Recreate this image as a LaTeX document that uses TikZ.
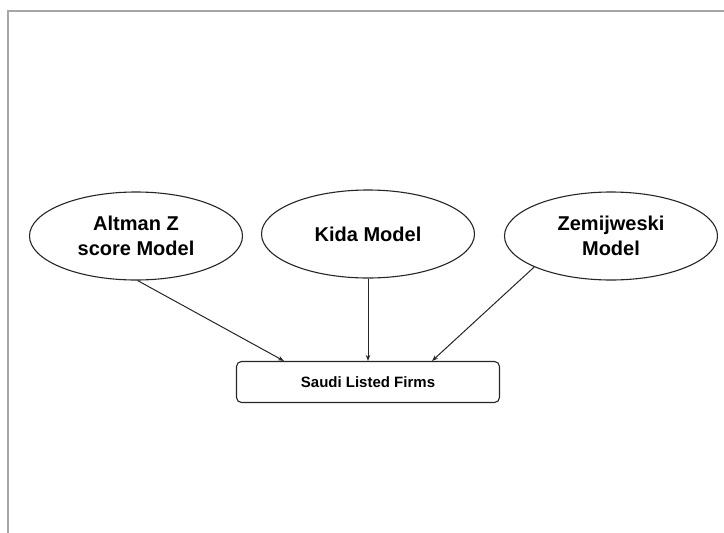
\documentclass[tikz,border=0pt]{standalone}
\usepackage{fontspec}
\setmainfont{Liberation Sans}
\usetikzlibrary{shapes.geometric,arrows.meta,calc}
\begin{document}
\begin{tikzpicture}[x=1pt,y=-1pt,
  model/.style={ellipse,draw=black!85,line width=1.1pt,minimum width=213pt,minimum height=88pt,inner sep=0pt,align=center,font=\bfseries\fontsize{20}{25}\selectfont},
  firmbox/.style={rectangle,rounded corners=5pt,draw=black!85,line width=1.1pt,minimum width=263pt,minimum height=41pt,inner sep=0pt,font=\bfseries\fontsize{15}{18}\selectfont},
  link/.style={draw=black!85,line width=1pt,-{Stealth[length=6pt,width=4.5pt]}},
  frameline/.style={draw=black!35,line width=2pt}]
\useasboundingbox (0,0) rectangle (724,533);
\coordinate (ftop) at (724,11);
\coordinate (fcorner) at (8,11);
\coordinate (fbot) at (8,533);
\draw[frameline] (ftop) -- (fcorner) -- (fbot);
\node[model] (alt) at (136,236) {Altman Z\\score Model};
\node[model] (kida) at (368,234) {Kida Model};
\node[model] (zem) at (611,236) {Zemijweski\\Model};
\node[firmbox] (firms) at (368,382) {Saudi Listed Firms};
\coordinate (e1) at ($(firms.north west)+(48,0)$);
\coordinate (e2) at ($(firms.north)$);
\coordinate (e3) at ($(firms.north east)+(-68,0)$);
\draw[link] (alt.-88) -- (e1);
\draw[link] (kida.south) -- (e2);
\draw[link] (zem.-158) -- (e3);
\end{tikzpicture}
\end{document}
